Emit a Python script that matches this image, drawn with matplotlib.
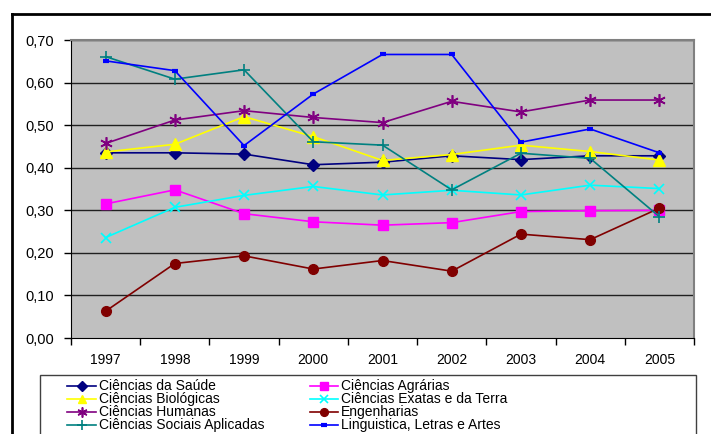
import matplotlib
matplotlib.use("Agg")
import matplotlib.pyplot as plt
from matplotlib.lines import Line2D
from matplotlib.patches import Rectangle
from matplotlib.ticker import FixedLocator, FuncFormatter

plt.rcParams['font.family'] = ['Liberation Sans', 'DejaVu Sans']

years = ['1997', '1998', '1999', '2000', '2001', '2002', '2003', '2004', '2005']

saude      = [0.435, 0.435, 0.432, 0.407, 0.413, 0.428, 0.419, 0.428, 0.428]
agrarias   = [0.315, 0.348, 0.292, 0.273, 0.265, 0.271, 0.297, 0.299, 0.300]
biologicas = [0.437, 0.455, 0.520, 0.473, 0.417, 0.431, 0.453, 0.438, 0.418]
exatas     = [0.236, 0.307, 0.335, 0.356, 0.336, 0.347, 0.336, 0.359, 0.351]
humanas    = [0.457, 0.512, 0.534, 0.518, 0.506, 0.556, 0.531, 0.559, 0.559]
engenharia = [0.063, 0.175, 0.193, 0.162, 0.182, 0.157, 0.244, 0.231, 0.305]
sociais    = [0.661, 0.608, 0.630, 0.461, 0.453, 0.348, 0.434, 0.422, 0.285]
linguistica= [0.651, 0.628, 0.452, 0.573, 0.666, 0.666, 0.460, 0.491, 0.435]

labels = ['Ciências da Saúde', 'Ciências Agrárias', 'Ciências Biológicas',
          'Ciências Exatas e da Terra', 'Ciências Humanas', 'Engenharias',
          'Ciências Sociais Aplicadas', 'Linguistica, Letras e Artes']
series = [saude, agrarias, biologicas, exatas, humanas, engenharia, sociais, linguistica]

styles = [
    dict(color='#000080', marker='D', ms=6, mew=1),
    dict(color='#FF00FF', marker='s', ms=7, mew=1),
    dict(color='#FFFF00', marker='^', ms=8, mew=1),
    dict(color='#00FFFF', marker='x', ms=7, mew=1.2),
    dict(color='#800080', marker=(6, 2, 0), ms=9, mew=1.2),
    dict(color='#800000', marker='o', ms=7, mew=1),
    dict(color='#008080', marker='+', ms=9, mew=1.2),
    dict(color='#0000FF', marker='_', ms=5, mew=3),
]

W, H = 711, 434
fig = plt.figure(figsize=(W / 100, H / 100), dpi=100)
fig.patch.set_facecolor('white')

ax = fig.add_axes([71 / W, 1 - 338 / H, (694 - 71) / W, (338 - 40) / H])
ax.set_facecolor('#C0C0C0')

x = list(range(len(years)))
for vals, st in zip(series, styles):
    ax.plot(x, vals, color=st['color'], lw=1.2, marker=st['marker'],
            markersize=st['ms'], markeredgewidth=st['mew'],
            markerfacecolor=st['color'], markeredgecolor=st['color'],
            clip_on=False, zorder=3)

ax.set_xlim(-0.5, len(years) - 0.5)
ax.set_ylim(0, 0.70)
yt = [i / 10 for i in range(8)]
ax.set_yticks(yt)
ax.yaxis.set_major_formatter(FuncFormatter(lambda v, p: f"{v:.2f}".replace('.', ',')))
for v in yt[1:]:
    ax.axhline(v, color='#202020', lw=1.0, zorder=1)

ax.xaxis.set_major_locator(FixedLocator([i - 0.5 for i in range(len(years) + 1)]))
ax.xaxis.set_minor_locator(FixedLocator(x))
ax.set_xticklabels([''] * (len(years) + 1))
ax.set_xticklabels(years, minor=True)
ax.tick_params(axis='x', which='minor', length=0, pad=11, labelsize=10)
ax.tick_params(axis='x', which='major', length=5, width=1, color='black', direction='out')
ax.tick_params(axis='y', length=5, width=1, direction='out', labelsize=10.5, pad=7)

for side in ['top', 'right']:
    ax.spines[side].set_color('#808080')
    ax.spines[side].set_linewidth(1.5)
ax.spines['left'].set_color('black')
ax.spines['bottom'].set_color('black')

# outer chart border (partially visible)
fig.add_artist(Line2D([12 / W, 1.0], [1 - 14 / H, 1 - 14 / H], transform=fig.transFigure,
                      color='black', lw=2))
fig.add_artist(Line2D([12 / W, 12 / W], [1 - 14 / H, 0.0], transform=fig.transFigure,
                      color='black', lw=2))

# legend box
fig.add_artist(Rectangle((40 / W, -0.05), (696 - 40) / W, (1 - 375 / H) + 0.05,
                         transform=fig.transFigure, facecolor='white',
                         edgecolor='#404040', lw=1))
rows_y = [386, 399, 412, 425]
cols = [(67, 96, 99), (310, 338, 341)]
for i, (lab, st) in enumerate(zip(labels, styles)):
    r, c = i // 2, i % 2
    x0, x1, xt = cols[c]
    yy = 1 - rows_y[r] / H
    fig.add_artist(Line2D([x0 / W, (x0 + x1) / 2 / W, x1 / W], [yy, yy, yy],
                          transform=fig.transFigure, color=st['color'], lw=1.2,
                          marker=st['marker'], markevery=[1], markersize=st['ms'] * 0.8,
                          markeredgewidth=st['mew'], markerfacecolor=st['color'],
                          markeredgecolor=st['color']))
    fig.text(xt / W, yy, lab, ha='left', va='center', fontsize=10)

fig.savefig('out.png', dpi=100)
